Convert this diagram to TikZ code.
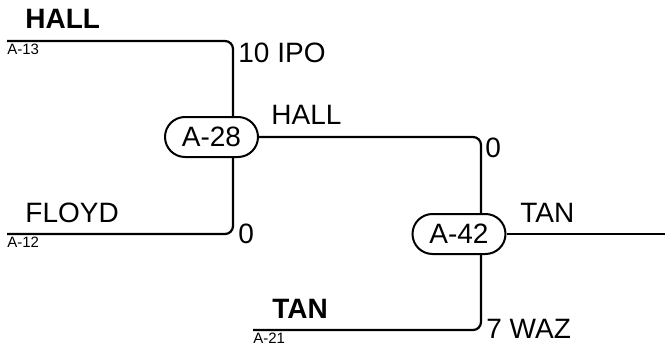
\documentclass[tikz,border=0pt]{standalone}
\usepackage{fontspec}
\setmainfont{Liberation Sans}
\usetikzlibrary{positioning}

\begin{document}
\begin{tikzpicture}[
    x=0.5pt,y=-0.5pt,
    game/.style={draw, line width=1pt, rounded corners=10pt, minimum width=46.5pt,
                 minimum height=20pt, inner sep=0pt, font=\fontsize{14}{16}\selectfont},
    wire/.style={line width=1.1pt, rounded corners=4pt},
    team/.style={anchor=base west, inner sep=0pt, font=\fontsize{14}{16}\selectfont},
    winner/.style={team, font=\fontsize{14}{16}\selectfont\bfseries},
    seed/.style={anchor=north west, inner sep=0pt, font=\fontsize{7.5}{9}\selectfont},
    score/.style={team}
]
\useasboundingbox (0,0) rectangle (665,348);

% Entries
\coordinate (s13) at (7,41);
\coordinate (s12) at (7,234);
\coordinate (s21) at (253,330);
\coordinate (champ) at (665,234);

% Games
\node[game] (a28) at (211.5,137) {A-28};
\node[game] (a42) at (459,234) {A-42};

% Bracket lines
\draw[wire] (s13) -| ([xshift=10.75pt]a28.north);
\draw[wire] (s12) -| ([xshift=10.75pt]a28.south);
\draw[wire] (a28.east) -| ([xshift=11pt]a42.north);
\draw[wire] (s21) -| ([xshift=11pt]a42.south);
\draw[wire] (a42.east) -- (champ);

% Teams and seeds
\node[winner] (t13) at (25,28) {HALL};
\node[seed] (n13) at (7,44) {A-13};
\node[team] (t12) at (25,222) {FLOYD};
\node[seed] (n12) at (7,237) {A-12};
\node[winner] (t21) at (272,318) {TAN};
\node[seed] (n21) at (253,333) {A-21};
\node[team] (w28) at (271,124) {HALL};
\node[team] (w42) at (520,222) {TAN};

% Scores
\node[score] (p13) at (238,62) {10 IPO};
\node[score] (p12) at (238,243) {0};
\node[score] (p28) at (485,157) {0};
\node[score] (p21) at (486,338) {7 WAZ};
\end{tikzpicture}
\end{document}
